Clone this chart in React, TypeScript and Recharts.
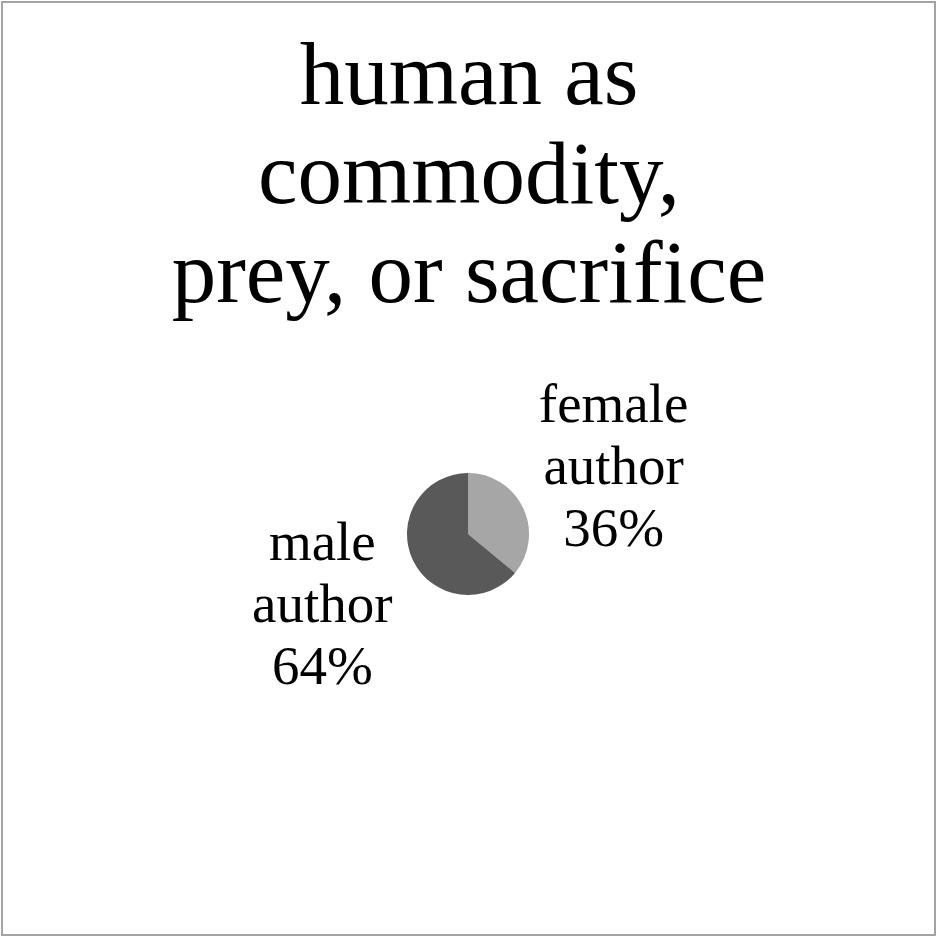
import React from "react";
import { PieChart, Pie, Cell } from "recharts";

const titleLines = ["human as", "commodity,", "prey, or sacrifice"];
const categories = ["female author", "male author"];
const shares = [36, 64];
const sliceColors = ["#a6a6a6", "#595959"];

const data = categories.map((name, i) => ({ name, value: shares[i] }));
const total = shares.reduce((a, b) => a + b, 0);

const RAD = Math.PI / 180;
const serif = "'Liberation Serif', 'DejaVu Serif', serif";

function SliceLabel(props: any) {
  const { cx, cy, midAngle, outerRadius, name, value } = props;
  const r = outerRadius + 100;
  const x = cx + r * Math.cos(-midAngle * RAD);
  const y = cy + r * Math.sin(-midAngle * RAD);
  const words = String(name).split(" ");
  const lines = [...words, `${Math.round((value / total) * 100)}%`];
  const lh = 62;
  const y0 = y - ((lines.length - 1) * lh) / 2 + 19;
  return (
    <text x={x} y={y0} textAnchor="middle" fill="#000" fontFamily={serif} fontSize={55}>
      {lines.map((l, i) => (
        <tspan key={i} x={x} y={y0 + i * lh}>
          {l}
        </tspan>
      ))}
    </text>
  );
}

export default function App() {
  return (
    <div style={{ position: "fixed", left: 0, top: 0, width: 938, height: 938, background: "#fff" }}>
      <div
        style={{
          position: "absolute",
          left: 1,
          top: 1,
          width: 935,
          height: 935,
          boxSizing: "border-box",
          border: "2px solid #a3a3a3",
        }}
      />
      <div
        style={{
          position: "absolute",
          left: 0,
          top: 25,
          width: 938,
          textAlign: "center",
          fontFamily: serif,
          fontSize: 89,
          lineHeight: "99px",
          color: "#000",
        }}
      >
        {titleLines.map((t, i) => (
          <div key={i}>{t}</div>
        ))}
      </div>
      <div style={{ position: "absolute", left: 0, top: 0 }}>
        <PieChart width={938} height={938}>
          <Pie
            data={data}
            dataKey="value"
            nameKey="name"
            cx={463}
            cy={529}
            outerRadius={61}
            startAngle={90}
            endAngle={-270}
            stroke="none"
            label={SliceLabel}
            labelLine={false}
            isAnimationActive={false}
          >
            {data.map((d, i) => (
              <Cell key={d.name} fill={sliceColors[i]} />
            ))}
          </Pie>
        </PieChart>
      </div>
    </div>
  );
}
